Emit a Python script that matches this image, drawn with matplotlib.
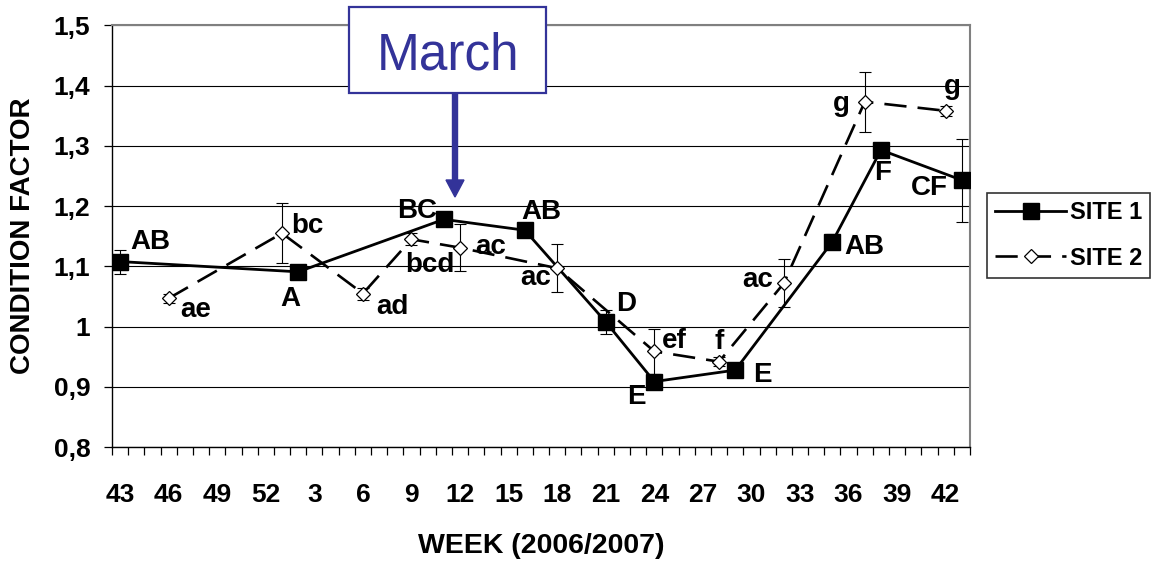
import matplotlib
matplotlib.use("Agg")
import matplotlib.pyplot as plt
from matplotlib.patches import Rectangle, FancyArrow
from matplotlib.transforms import IdentityTransform
from matplotlib.lines import Line2D

plt.rcParams['font.family'] = ['Liberation Sans', 'DejaVu Sans']
plt.rcParams['lines.scale_dashes'] = False

# ---------------- data ----------------
# categories: week 43 (2006) ... week 43 (2007), one category per week
tick_labels = ["43", "46", "49", "52", "3", "6", "9", "12", "15", "18",
               "21", "24", "27", "30", "33", "36", "39", "42"]
n_weeks = 53  # weeks from 43/2006 to 43/2007

# position = weeks elapsed since week 43 of 2006
site1_pos = [0, 11, 20, 25, 30, 33, 38, 44, 47, 52]
site1_val = [1.108, 1.091, 1.178, 1.160, 1.008, 0.909, 0.928, 1.141, 1.293, 1.243]
site1_err = [0.020, 0.004, 0.004, 0.004, 0.020, 0.004, 0.004, 0.012, 0.004, 0.069]
site1_lab = ["AB", "A", "BC", "AB", "D", "E", "E", "AB", "F", "CF"]

site2_pos = [3, 10, 15, 18, 21, 27, 33, 37, 41, 46, 51]
site2_val = [1.047, 1.155, 1.055, 1.145, 1.131, 1.097, 0.959, 0.942, 1.072, 1.373, 1.358]
site2_err = [0.008, 0.050, 0.010, 0.010, 0.039, 0.040, 0.037, 0.008, 0.040, 0.050, 0.008]
site2_lab = ["ae", "bc", "ad", "bcd", "ac", "ac", "ef", "f", "ac", "g", "g"]

# label offsets (pixels)
site1_off = [(30, 20), (-8, -27), (-27, 8), (17, 18), (20, 18), (-18, -15),
             (27, -5), (32, -5), (2, -23), (-33, -8)]
site2_off = [(27, -12), (25, 7), (30, -13), (18, -26), (31, 1), (-22, -10),
             (20, 10), (0, 20), (-26, 3), (-23, -2), (7, 24)]

W, H = 1151, 562
fig = plt.figure(figsize=(W / 100, H / 100), dpi=100)
L, R, T, B = 112, 970, 25.2, 447.3
ax = fig.add_axes([L / W, 1 - B / H, (R - L) / W, (B - T) / H])

ax.set_xlim(-0.5, n_weeks - 0.5)
ax.set_ylim(0.8, 1.5)

# gridlines
ax.set_yticks([0.8, 0.9, 1.0, 1.1, 1.2, 1.3, 1.4, 1.5])
ax.set_yticklabels(["0,8", "0,9", "1", "1,1", "1,2", "1,3", "1,4", "1,5"])
ax.yaxis.grid(True, color='black', lw=0.8)
ax.set_axisbelow(True)

# site 1
ax.errorbar(site1_pos, site1_val, yerr=site1_err, fmt='none', ecolor='black',
            elinewidth=0.8, capsize=4.3, capthick=0.8, zorder=3)
ax.plot(site1_pos, site1_val, color='black', lw=2.0, marker='s', ms=12,
        mfc='black', mec='black', zorder=4)

# site 2
ax.errorbar(site2_pos, site2_val, yerr=site2_err, fmt='none', ecolor='black',
            elinewidth=0.8, capsize=4.3, capthick=0.8, zorder=3)
ax.plot(site2_pos, site2_val, color='black', lw=1.9, dashes=[16, 8],
        marker='D', ms=6.8, mfc='white', mec='black', mew=0.9, zorder=5)

for x, y, s, o in zip(site1_pos, site1_val, site1_lab, site1_off):
    ax.annotate(s, (x, y), xytext=o, textcoords='offset pixels',
                ha='center', va='center', fontsize=20, fontweight='bold', zorder=6)
for x, y, s, o in zip(site2_pos, site2_val, site2_lab, site2_off):
    ax.annotate(s, (x, y), xytext=o, textcoords='offset pixels',
                ha='center', va='center', fontsize=20, fontweight='bold', zorder=6)

# x axis ticks: boundaries (major) and labels at centers (minor)
ax.set_xticks([i - 0.5 for i in range(n_weeks + 1)])
ax.set_xticklabels([])
ax.set_xticks(list(range(0, n_weeks, 3))[:len(tick_labels)], minor=True)
ax.set_xticklabels(tick_labels, minor=True, fontsize=19, fontweight='bold')
ax.tick_params(axis='x', which='major', direction='out', length=6, width=0.9, color='black')
ax.tick_params(axis='x', which='minor', length=0, pad=26)
ax.tick_params(axis='y', direction='out', length=6, width=0.9, pad=9.5,
               labelsize=19)
for t in ax.get_yticklabels():
    t.set_fontweight('bold')

for s in ['left', 'bottom']:
    ax.spines[s].set_color('black')
    ax.spines[s].set_linewidth(1.0)
for s in ['top', 'right']:
    ax.spines[s].set_color('#808080')
    ax.spines[s].set_linewidth(1.5)

ax.set_xlabel("WEEK (2006/2007)", fontsize=20.5, fontweight='bold')
ax.xaxis.label.set_va('center')
ax.xaxis.set_label_coords(0.5, -(546 - B) / (B - T))
ax.set_ylabel("CONDITION FACTOR", fontsize=20, fontweight='bold')
ax.yaxis.label.set_va('center')
ax.yaxis.set_label_coords((23 - L) / (R - L), 0.5)

# legend
h1 = Line2D([], [], color='black', lw=2.0, marker='s', ms=12, mfc='black')
h2 = Line2D([], [], color='black', lw=1.9, dashes=[16, 8], marker='D', ms=6.8,
            mfc='white', mec='black', mew=0.9)
leg = fig.legend([h1, h2], ["SITE 1", "SITE 2"], loc='upper left',
                 bbox_to_anchor=(987 / W, 1 - 193 / H), borderaxespad=0,
                 prop={'size': 17, 'weight': 'bold'}, frameon=True, fancybox=False,
                 edgecolor='black', handlelength=3.0, handletextpad=0.15,
                 labelspacing=0.95, borderpad=0.35)
leg.get_frame().set_linewidth(1.2)

# March annotation
blue = '#333399'
fig.patches.append(Rectangle((349, H - 93), 197, 86, transform=IdentityTransform(),
                             fc='white', ec=blue, lw=1.6, zorder=10))
fig.text(447.7 / W, 1 - 70 / H, "March", ha='center', va='baseline',
         fontsize=37, color=blue, zorder=11)
fig.patches.append(FancyArrow(455, H - 93, 0, -(197 - 93), width=5, head_width=18,
                              head_length=17, length_includes_head=True,
                              transform=IdentityTransform(), color=blue, zorder=10))

fig.savefig("out.png", dpi=100)
